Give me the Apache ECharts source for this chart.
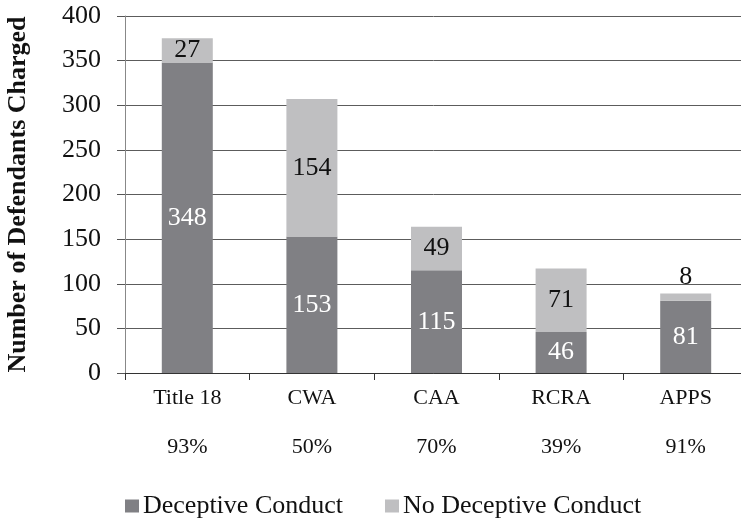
<!DOCTYPE html>
<html><head><meta charset="utf-8">
<script src="https://cdn.jsdelivr.net/npm/echarts@6/dist/echarts.min.js"></script>
<style>html,body{margin:0;padding:0;background:#fff}#c{width:741px;height:521px}</style>
</head><body><div id="c"></div>
<script>
const categories = ['Title 18', 'CWA', 'CAA', 'RCRA', 'APPS'];
const percentages = ['93%', '50%', '70%', '39%', '91%'];
const deceptive = [348, 153, 115, 46, 81];
const noDeceptive = [27, 154, 49, 71, 8];
const yTicks = [0, 50, 100, 150, 200, 250, 300, 350, 400];

const FONT = '"Liberation Serif", "Times New Roman", serif';
const chart = echarts.init(document.getElementById('c'), null, {renderer: 'canvas'});
chart.setOption({
  animation: false,
  textStyle: {fontFamily: FONT},
  grid: {left: 125, top: 16, width: 623, bottom: 148, containLabel: false, outerBoundsMode: 'none'},
  legend: {
    top: 488, left: 120,
    itemWidth: 14, itemHeight: 13, itemGap: 42,
    icon: 'rect',
    textStyle: {fontFamily: FONT, fontSize: 26, color: '#111', padding: [0, 0, 0, -1]},
    data: ['Deceptive Conduct', 'No Deceptive Conduct']
  },
  xAxis: {
    type: 'category',
    data: categories,
    axisLine: {lineStyle: {color: '#333', width: 1}},
    axisTick: {show: true, length: 7, lineStyle: {color: '#333'}},
    axisLabel: {
      margin: 13,
      fontFamily: FONT, fontSize: 22, color: '#111', lineHeight: 24.5,
      formatter: (v, i) => v + '\n\n' + percentages[i]
    }
  },
  yAxis: {
    type: 'value', min: yTicks[0], max: yTicks[yTicks.length - 1], interval: 50,
    name: 'Number of Defendants Charged',
    nameLocation: 'middle', nameGap: 94,
    nameTextStyle: {fontFamily: FONT, fontSize: 26, fontWeight: 'bold', color: '#111'},
    axisLine: {show: true, lineStyle: {color: '#888', width: 1}},
    axisTick: {show: true, length: 8, lineStyle: {color: '#555'}},
    splitLine: {lineStyle: {color: '#5c5c5c', width: 1}},
    axisLabel: {margin: 24, fontFamily: FONT, fontSize: 26, color: '#111'}
  },
  series: [
    {
      name: 'Deceptive Conduct', type: 'bar', stack: 'a', data: deceptive,
      barWidth: 51,
      itemStyle: {color: '#808084'},
      label: {show: true, position: 'inside', color: '#fff', fontFamily: FONT, fontSize: 26}
    },
    {
      name: 'No Deceptive Conduct', type: 'bar', stack: 'a',
      data: noDeceptive.map((v, i) => i === 4
        ? {value: v, label: {position: 'top', distance: 3}}
        : v),
      barWidth: 51,
      itemStyle: {color: '#bfbfc1'},
      label: {show: true, position: 'inside', color: '#111', fontFamily: FONT, fontSize: 26}
    }
  ]
});
</script></body></html>
